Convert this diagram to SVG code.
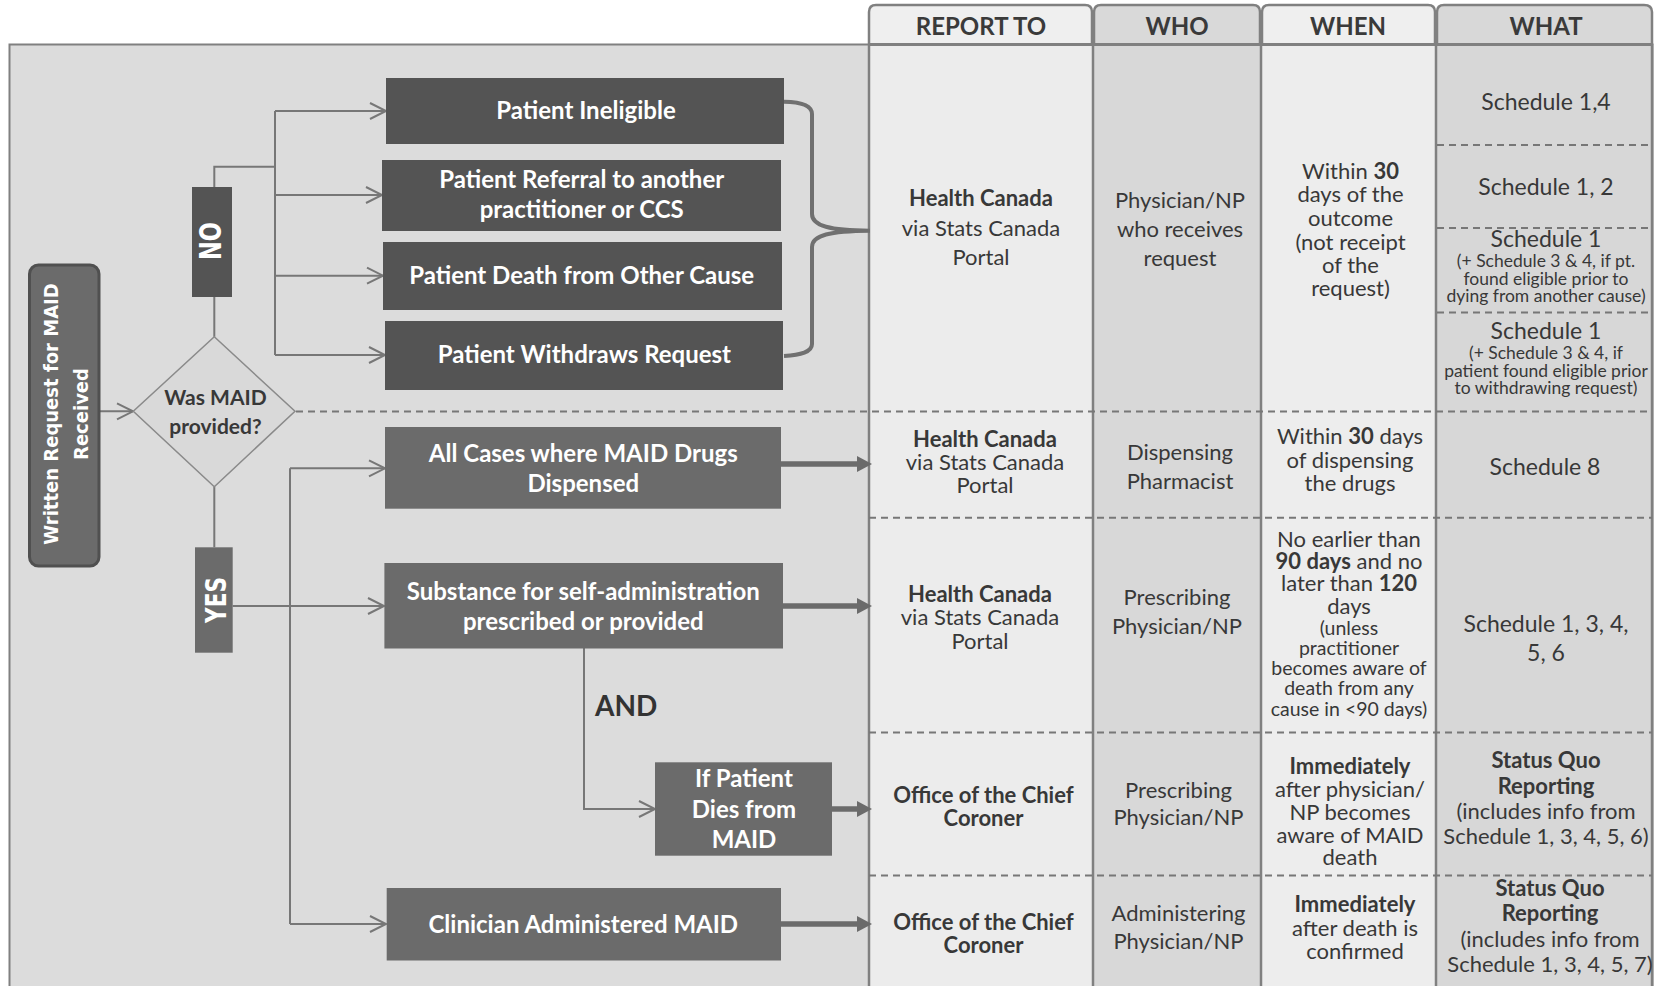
<svg xmlns="http://www.w3.org/2000/svg" width="1659" height="986" viewBox="0 0 1659 986">
<defs>
<style>
.t{font-family:Lato,"Liberation Sans",sans-serif;fill:#383838;text-anchor:middle;font-size:22px}
.L{font-size:23px}
.b{font-weight:bold}
.s{font-size:17.5px}
.m{font-size:19.5px}
.h{font-family:Lato,"Liberation Sans",sans-serif;fill:#3a3a3a;text-anchor:middle;font-size:24px;font-weight:bold}
.w{font-family:Lato,"Liberation Sans",sans-serif;fill:#ffffff;text-anchor:middle;font-size:24px;font-weight:bold}
.v{font-family:"DejaVu Sans Condensed","DejaVu Sans",sans-serif;fill:#ffffff;text-anchor:middle;font-weight:bold}
.conn{stroke:#777;stroke-width:2;fill:none}
.thick{stroke:#6b6b6b;stroke-width:5.5;fill:none}
.dash{stroke:#777;stroke-width:2;stroke-dasharray:7 5;fill:none}
.colline{stroke:#808080;stroke-width:2.5;fill:none}
.tab{stroke:#808080;stroke-width:2.5}
.dk{fill:#545454}
.md{fill:#6b6b6b}
</style>
<marker id="chev" markerUnits="userSpaceOnUse" markerWidth="20" markerHeight="20" refX="17" refY="9" orient="auto" overflow="visible">
<path d="M1,1 L17,9 L1,17" fill="none" stroke="#777" stroke-width="2"/>
</marker>
<marker id="tri" markerUnits="userSpaceOnUse" markerWidth="18" markerHeight="18" refX="0" refY="8" orient="auto" overflow="visible">
<path d="M0,0 L15,8 L0,16 Z" fill="#6b6b6b"/>
</marker>
</defs>

<g id="background">
<rect x="9.5" y="44.5" width="1643" height="960" fill="#dcdcdc" stroke="#808080" stroke-width="2"/>
<rect x="869" y="44" width="224" height="950" fill="#ececec"/>
<rect x="1093" y="44" width="168" height="950" fill="#d8d8d8"/>
<rect x="1261" y="44" width="175" height="950" fill="#ededed"/>
<rect x="1436" y="44" width="216" height="950" fill="#d7d7d7"/>
<path class="tab" fill="#efefef" d="M869,44.5 V12 Q869,5 876,5 H1085 Q1092,5 1092,12 V44.5"/>
<path class="tab" fill="#d9d9d9" d="M1094,44.5 V12 Q1094,5 1101,5 H1253 Q1260,5 1260,12 V44.5"/>
<path class="tab" fill="#efefef" d="M1262,44.5 V12 Q1262,5 1269,5 H1428 Q1435,5 1435,12 V44.5"/>
<path class="tab" fill="#d8d8d8" d="M1437,44.5 V12 Q1437,5 1444,5 H1644 Q1652,5 1652,12 V44.5"/>
<path class="colline" d="M869,44 V990 M1093,44 V990 M1261,44 V990 M1436,44 V990 M1652,44 V990"/>
<path stroke="#808080" stroke-width="3" d="M868,44.5 H1653"/>
<path class="dash" d="M296,411.6 H1652 M869,517.7 H1652 M869,732.6 H1652 M869,875.5 H1652 M1437,145 H1652 M1437,228 H1652 M1437,312.5 H1652"/>
</g>

<g id="headers">
<text class="h" x="981" y="35">REPORT TO</text>
<text class="h" x="1177" y="35">WHO</text>
<text class="h" x="1348" y="35">WHEN</text>
<text class="h" x="1546" y="35">WHAT</text>
</g>

<g id="connectors">
<path class="conn" marker-end="url(#chev)" d="M100,411.3 H133"/>
<path class="conn" d="M214.3,336.7 V296.7 M214.3,187 V166.7 H275 M275,111 V355"/>
<path class="conn" marker-end="url(#chev)" d="M275,111 H386"/>
<path class="conn" marker-end="url(#chev)" d="M275,195 H382"/>
<path class="conn" marker-end="url(#chev)" d="M275,275.7 H383"/>
<path class="conn" marker-end="url(#chev)" d="M275,355 H385"/>
<path class="conn" d="M214.3,486.7 V547.3 M290,468.3 V924"/>
<path class="conn" marker-end="url(#chev)" d="M232.7,606 H384"/>
<path class="conn" marker-end="url(#chev)" d="M290,468.3 H385"/>
<path class="conn" marker-end="url(#chev)" d="M290,924 H386"/>
<path class="conn" marker-end="url(#chev)" d="M584,648 V809 H655"/>
<path d="M784,101.7 C801,102 812,105 812,114 V214 C812,226 830,230.5 870,230.7 C830,231 812,235 812,247 V344 C812,352 801,355 784,356" fill="none" stroke="#707070" stroke-width="4"/>
<path class="thick" marker-end="url(#tri)" d="M781,464 H857"/>
<path class="thick" marker-end="url(#tri)" d="M783,606 H857"/>
<path class="thick" marker-end="url(#tri)" d="M832,809 H857"/>
<path class="thick" marker-end="url(#tri)" d="M781,924 H857"/>
<text class="t b" x="595" y="716" style="font-size:28px;text-anchor:start;fill:#333">AND</text>
</g>

<g id="written-request">
<rect x="29.5" y="265" width="69.5" height="301" rx="9" fill="#6b6b6b" stroke="#505050" stroke-width="3"/>
<text class="v" font-size="20" transform="translate(58,414) rotate(-90)">Written Request for MAID</text>
<text class="v" font-size="20" transform="translate(88,414) rotate(-90)">Received</text>
</g>

<g id="decision">
<path d="M214.3,336.7 L295,411.3 L214.3,486.7 L133.3,411.3 Z" fill="#d9d9d9" stroke="#8a8a8a" stroke-width="1.5"/>
<text class="t b" x="215.5" y="405" style="font-size:21px">Was MAID</text>
<text class="t b" x="215.5" y="433.5" style="font-size:21px">provided?</text>
</g>

<g id="no-label">
<rect class="dk" x="192" y="187" width="40" height="110"/>
<text class="v" font-size="25" transform="translate(221,241) rotate(-90) scale(1,1.2)">NO</text>
</g>

<g id="yes-label">
<rect class="md" x="195" y="547.3" width="37.7" height="105.4"/>
<text class="v" font-size="24" transform="translate(226,600) rotate(-90) scale(1,1.2)">YES</text>
</g>

<g id="patient-ineligible">
<rect class="dk" x="386" y="78" width="398" height="66"/>
<text class="w" x="586" y="119.3">Patient Ineligible</text>
</g>
<g id="patient-referral">
<rect class="dk" x="382" y="160" width="399" height="71"/>
<text class="w" x="581.7" y="187.7">Patient Referral to another</text>
<text class="w" x="581.7" y="218.3">practitioner or CCS</text>
</g>
<g id="patient-death-other">
<rect class="dk" x="383" y="242" width="399" height="68"/>
<text class="w" x="581.7" y="284">Patient Death from Other Cause</text>
</g>
<g id="patient-withdraws">
<rect class="dk" x="385" y="321" width="398" height="69"/>
<text class="w" x="584.4" y="363.3">Patient Withdraws Request</text>
</g>

<g id="all-cases-dispensed">
<rect class="md" x="385" y="427" width="396" height="81.7"/>
<text class="w" x="583.3" y="461.7">All Cases where MAID Drugs</text>
<text class="w" x="583.3" y="491.5">Dispensed</text>
</g>
<g id="substance-self-admin">
<rect class="md" x="384.4" y="563" width="398.6" height="85.5"/>
<text class="w" x="583.3" y="600">Substance for self-administration</text>
<text class="w" x="583.3" y="629.8">prescribed or provided</text>
</g>
<g id="if-patient-dies">
<rect class="md" x="655" y="762.3" width="177" height="93.4"/>
<text class="w" x="744" y="786.7">If Patient</text>
<text class="w" x="744" y="817.7">Dies from</text>
<text class="w" x="744" y="848">MAID</text>
</g>
<g id="clinician-administered">
<rect class="md" x="386.7" y="888" width="394.3" height="72.5"/>
<text class="w" x="583.3" y="932.5">Clinician Administered MAID</text>
</g>

<g id="row-no">
<text class="t b" x="981" y="206">Health Canada</text>
<text class="t" x="981" y="235.5">via Stats Canada</text>
<text class="t" x="981" y="265">Portal</text>
<text class="t" x="1180" y="208.3">Physician/NP</text>
<text class="t" x="1180" y="237.3">who receives</text>
<text class="t" x="1180" y="265.5">request</text>
<text class="t" x="1350.5" y="179">Within <tspan class="b">30</tspan></text>
<text class="t" x="1350.5" y="202">days of the</text>
<text class="t" x="1350.5" y="226">outcome</text>
<text class="t" x="1350.5" y="249.5">(not receipt</text>
<text class="t" x="1350.5" y="273">of the</text>
<text class="t" x="1350.5" y="296">request)</text>
<text class="t L" x="1546" y="110">Schedule 1,4</text>
<text class="t L" x="1546" y="195">Schedule 1, 2</text>
<text class="t L" x="1546" y="247.3">Schedule 1</text>
<text class="t s" x="1546" y="266.7">(+ Schedule 3 &amp; 4, if pt.</text>
<text class="t s" x="1546" y="285">found eligible prior to</text>
<text class="t s" x="1546" y="302">dying from another cause)</text>
<text class="t L" x="1546" y="339.3">Schedule 1</text>
<text class="t s" x="1546" y="359">(+ Schedule 3 &amp; 4, if</text>
<text class="t s" x="1546" y="376.7">patient found eligible prior</text>
<text class="t s" x="1546" y="394.3">to withdrawing request)</text>
</g>

<g id="row-dispensed">
<text class="t b" x="985" y="446.7">Health Canada</text>
<text class="t" x="985" y="470">via Stats Canada</text>
<text class="t" x="985" y="493.4">Portal</text>
<text class="t" x="1180" y="459.8">Dispensing</text>
<text class="t" x="1180" y="488.6">Pharmacist</text>
<text class="t" x="1350" y="444">Within <tspan class="b">30</tspan> days</text>
<text class="t" x="1350" y="468">of dispensing</text>
<text class="t" x="1350" y="490.8">the drugs</text>
<text class="t L" x="1545" y="474.7">Schedule 8</text>
</g>

<g id="row-self-admin">
<text class="t b" x="980" y="601.8">Health Canada</text>
<text class="t" x="980" y="625.3">via Stats Canada</text>
<text class="t" x="980" y="648.5">Portal</text>
<text class="t" x="1177" y="604.8">Prescribing</text>
<text class="t" x="1177" y="633.6">Physician/NP</text>
<text class="t" x="1349" y="546.5">No earlier than</text>
<text class="t" x="1349" y="569"><tspan class="b">90 days</tspan> and no</text>
<text class="t" x="1349" y="591.3">later than <tspan class="b">120</tspan></text>
<text class="t" x="1349" y="613.7">days</text>
<text class="t m" x="1349" y="634.7">(unless</text>
<text class="t m" x="1349" y="655.2">practitioner</text>
<text class="t m" x="1349" y="675.4">becomes aware of</text>
<text class="t m" x="1349" y="695.2">death from any</text>
<text class="t m" x="1349" y="715.8">cause in &lt;90 days)</text>
<text class="t L" x="1546" y="631.7">Schedule 1, 3, 4,</text>
<text class="t L" x="1546" y="660.5">5, 6</text>
</g>

<g id="row-dies">
<text class="t b" x="983.5" y="802.8">Office of the Chief</text>
<text class="t b" x="983.5" y="826">Coroner</text>
<text class="t" x="1178.5" y="798">Prescribing</text>
<text class="t" x="1178.5" y="825">Physician/NP</text>
<text class="t b" x="1350" y="773.7">Immediately</text>
<text class="t" x="1350" y="797.2">after physician/</text>
<text class="t" x="1350" y="819.7">NP becomes</text>
<text class="t" x="1350" y="842.8">aware of MAID</text>
<text class="t" x="1350" y="864.5">death</text>
<text class="t b" x="1546" y="768">Status Quo</text>
<text class="t b" x="1546" y="793.5">Reporting</text>
<text class="t" x="1546" y="818.5">(includes info from</text>
<text class="t" x="1546" y="843.6">Schedule 1, 3, 4, 5, 6)</text>
</g>

<g id="row-clinician">
<text class="t b" x="983.5" y="930">Office of the Chief</text>
<text class="t b" x="983.5" y="953">Coroner</text>
<text class="t" x="1178.5" y="920.5">Administering</text>
<text class="t" x="1178.5" y="949.3">Physician/NP</text>
<text class="t b" x="1355" y="912">Immediately</text>
<text class="t" x="1355" y="935.5">after death is</text>
<text class="t" x="1355" y="958.7">confirmed</text>
<text class="t b" x="1550" y="896.3">Status Quo</text>
<text class="t b" x="1550" y="921.3">Reporting</text>
<text class="t" x="1550" y="946.7">(includes info from</text>
<text class="t" x="1550" y="971.7">Schedule 1, 3, 4, 5, 7)</text>
</g>
</svg>
